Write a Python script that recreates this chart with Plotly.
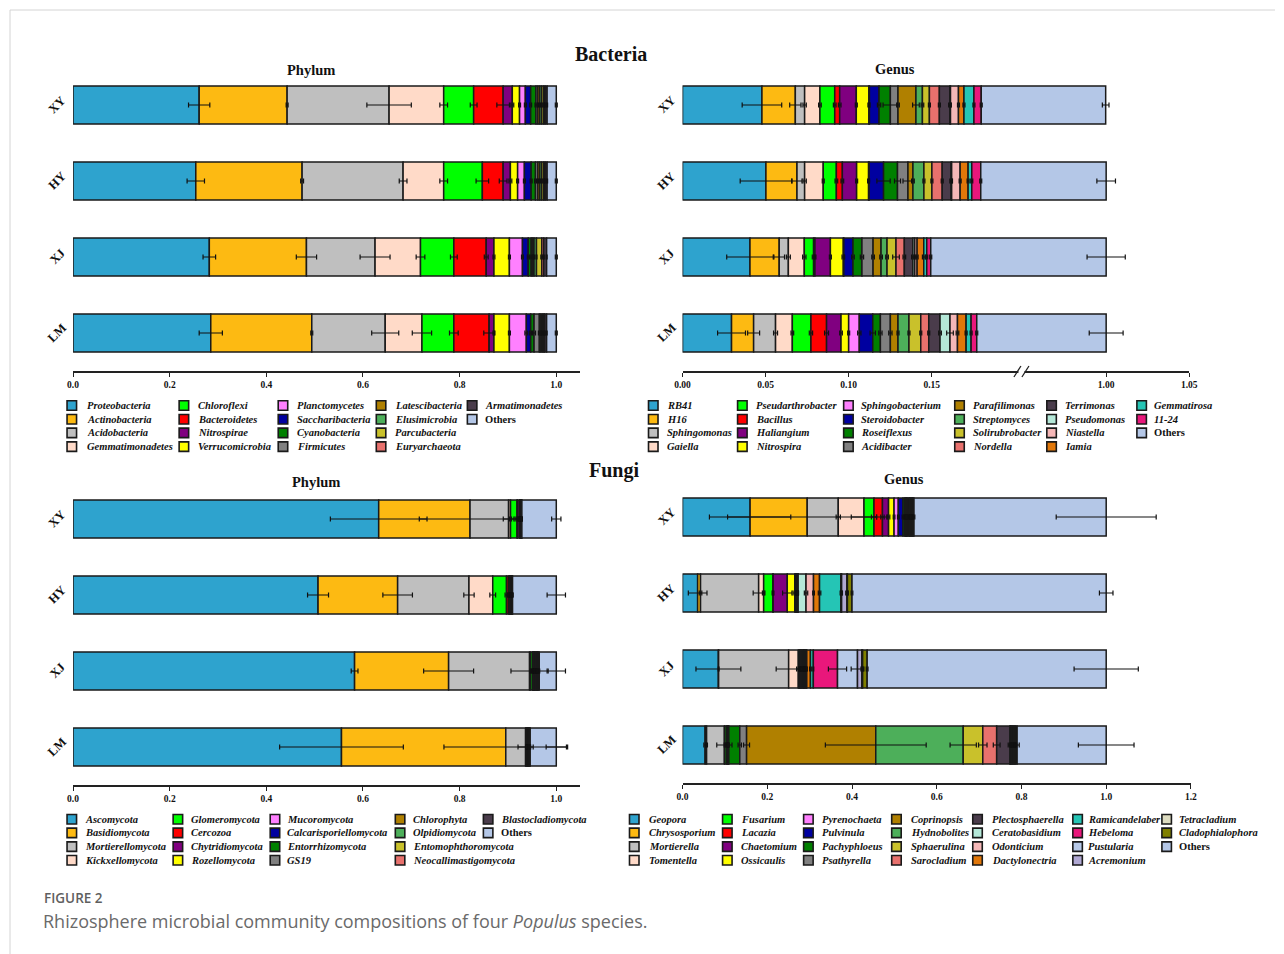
import numpy as np
import plotly.graph_objects as go

# page size, and the strip of the page that the paper coordinates span
PAGE_W, PAGE_H = 1284, 954
SPAN_X0, SPAN_W = 8, 1266
GROUPS = ["XY", "HY", "XJ", "LM"]
SERIF = "Liberation Serif, Times New Roman, serif"
SANS = "Open Sans, Noto Sans, sans-serif"

# ---------------------------------------------------------------- palette
PALETTE = [
    "#2EA3CE", "#FDBA12", "#BFBFBF", "#FFDAC8", "#00FF00", "#FF0000",
    "#800080", "#FFFF00", "#FF80FF", "#0000A0", "#008000", "#808080",
    "#B08000", "#4DAF5A", "#C9C12B", "#E8716D", "#4A3C4B", "#B5E8D8",
    "#F5B7B7", "#E17709", "#25C5B5", "#E9177B", "#B7C9E8", "#B0A8D3",
    "#DDDCC0", "#808000",
]
OTHERS_COLOR = "#B4C7E7"

# ---------------------------------------------------------------- bacteria, phylum level (XY, HY, XJ, LM)
BAC_PHYLUM = {
    "Proteobacteria":   [0.261, 0.254, 0.282, 0.285],
    "Actinobacteria":   [0.182, 0.220, 0.201, 0.209],
    "Acidobacteria":    [0.211, 0.209, 0.142, 0.152],
    "Gemmatimonadetes": [0.113, 0.084, 0.094, 0.076],
    "Chloroflexi":      [0.062, 0.080, 0.069, 0.066],
    "Bacteroidetes":    [0.061, 0.043, 0.067, 0.073],
    "Nitrospirae":      [0.019, 0.015, 0.016, 0.010],
    "Verrucomicrobia":  [0.015, 0.015, 0.032, 0.032],
    "Planctomycetes":   [0.012, 0.014, 0.027, 0.035],
    "Saccharibacteria": [0.011, 0.014, 0.012, 0.009],
    "Cyanobacteria":    [0.011, 0.009, 0.006, 0.007],
    "Firmicutes":       [0.004, 0.005, 0.003, 0.011],
    "Latescibacteria":  [0.004, 0.004, 0.003, 0.003],
    "Elusimicrobia":    [0.004, 0.004, 0.005, 0.003],
    "Parcubacteria":    [0.004, 0.004, 0.011, 0.003],
    "Euryarchaeota":    [0.003, 0.003, 0.004, 0.002],
    "Armatimonadetes":  [0.004, 0.004, 0.006, 0.004],
    "Others":           [0.019, 0.019, 0.020, 0.020],
}
BAC_PHYLUM_SD = {
    "Proteobacteria":   [0.022, 0.018, 0.013, 0.024],
    "Actinobacteria":   [0.002, 0.003, 0.021, 0.002],
    "Acidobacteria":    [0.046, 0.008, 0.031, 0.028],
    "Gemmatimonadetes": [0.008, 0.008, 0.009, 0.020],
    "Chloroflexi":      [0.007, 0.013, 0.007, 0.009],
    "Bacteroidetes":    [0.013, 0.008, 0.004, 0.011],
    "Nitrospirae":      [0.003, 0.003, 0.002, 0.002],
    "Verrucomicrobia":  [0.002, 0.002, 0.002, 0.002],
    "Planctomycetes":   [0.002, 0.002, 0.002, 0.003],
    "Saccharibacteria": [0.002, 0.002, 0.002, 0.002],
    "Cyanobacteria":    [0.002, 0.002, 0.002, 0.003],
    "Firmicutes":       [0.001, 0.001, 0.001, 0.002],
    "Latescibacteria":  [0.001, 0.001, 0.001, 0.001],
    "Elusimicrobia":    [0.001, 0.001, 0.001, 0.001],
    "Parcubacteria":    [0.001, 0.001, 0.002, 0.001],
    "Euryarchaeota":    [0.001, 0.001, 0.001, 0.001],
    "Armatimonadetes":  [0.001, 0.001, 0.001, 0.001],
    "Others":           [0.002, 0.002, 0.002, 0.002],
}

# ---------------------------------------------------------------- bacteria, genus level
BAC_GENUS = {
    "RB41":              [0.0478, 0.0502, 0.0406, 0.0295],
    "H16":               [0.0201, 0.0187, 0.0176, 0.0133],
    "Sphingomonas":      [0.0056, 0.0046, 0.0055, 0.0132],
    "Gaiella":           [0.0092, 0.0112, 0.0096, 0.0101],
    "Pseudarthrobacter": [0.0089, 0.0079, 0.0056, 0.0112],
    "Bacillus":          [0.0030, 0.0036, 0.0008, 0.0094],
    "Haliangium":        [0.0100, 0.0086, 0.0093, 0.0087],
    "Nitrospira":        [0.0076, 0.0072, 0.0078, 0.0046],
    "Sphingobacterium":  [0.0003, 0.0003, 0.0003, 0.0064],
    "Steroidobacter":    [0.0058, 0.0087, 0.0055, 0.0081],
    "Roseiflexus":       [0.0068, 0.0084, 0.0054, 0.0046],
    "Acidibacter":       [0.0046, 0.0063, 0.0067, 0.0060],
    "Parafilimonas":     [0.0108, 0.0030, 0.0048, 0.0046],
    "Streptomyces":      [0.0039, 0.0066, 0.0036, 0.0066],
    "Solirubrobacter":   [0.0042, 0.0048, 0.0054, 0.0071],
    "Nordella":          [0.0060, 0.0062, 0.0050, 0.0048],
    "Terrimonas":        [0.0064, 0.0054, 0.0052, 0.0068],
    "Pseudomonas":       [0.0003, 0.0003, 0.0011, 0.0060],
    "Niastella":         [0.0048, 0.0051, 0.0014, 0.0045],
    "Iamia":             [0.0033, 0.0048, 0.0040, 0.0052],
    "Gemmatirosa":       [0.0060, 0.0022, 0.0018, 0.0030],
    "11-24":             [0.0044, 0.0054, 0.0024, 0.0034],
    "Others":            [0.8199, 0.8205, 0.8506, 0.8229],
}
BAC_GENUS_SD = {
    "RB41":              [0.0119, 0.0155, 0.0140, 0.0084],
    "H16":               [0.0034, 0.0030, 0.0032, 0.0036],
    "Sphingomonas":      [0.0010, 0.0010, 0.0012, 0.0012],
    "Gaiella":           [0.0008, 0.0006, 0.0010, 0.0008],
    "Pseudarthrobacter": [0.0008, 0.0008, 0.0008, 0.0010],
    "Bacillus":          [0.0008, 0.0008, 0.0006, 0.0012],
    "Haliangium":        [0.0006, 0.0006, 0.0006, 0.0008],
    "Nitrospira":        [0.0006, 0.0006, 0.0008, 0.0006],
    "Sphingobacterium":  [0.0002, 0.0002, 0.0002, 0.0010],
    "Steroidobacter":    [0.0010, 0.0040, 0.0008, 0.0016],
    "Roseiflexus":       [0.0044, 0.0018, 0.0010, 0.0010],
    "Acidibacter":       [0.0008, 0.0030, 0.0008, 0.0010],
    "Parafilimonas":     [0.0020, 0.0008, 0.0008, 0.0006],
    "Streptomyces":      [0.0008, 0.0006, 0.0008, 0.0006],
    "Solirubrobacter":   [0.0006, 0.0006, 0.0020, 0.0006],
    "Nordella":          [0.0006, 0.0006, 0.0008, 0.0006],
    "Terrimonas":        [0.0008, 0.0008, 0.0008, 0.0008],
    "Pseudomonas":       [0.0002, 0.0002, 0.0006, 0.0020],
    "Niastella":         [0.0006, 0.0006, 0.0006, 0.0008],
    "Iamia":             [0.0006, 0.0006, 0.0008, 0.0006],
    "Gemmatirosa":       [0.0006, 0.0006, 0.0006, 0.0006],
    "11-24":             [0.0006, 0.0006, 0.0006, 0.0006],
    "Others":            [0.0020, 0.0056, 0.0115, 0.0102],
}

# ---------------------------------------------------------------- fungi, phylum level
FUN_PHYLUM = {
    "Ascomycota":            [0.6325, 0.5070, 0.5826, 0.5555],
    "Basidiomycota":         [0.1890, 0.1647, 0.1946, 0.3400],
    "Mortierellomycota":     [0.0798, 0.1476, 0.1675, 0.0410],
    "Kickxellomycota":       [0.0040, 0.0492, 0.0020, 0.0010],
    "Glomeromycota":         [0.0135, 0.0285, 0.0040, 0.0010],
    "Cercozoa":              [0.0010, 0.0040, 0.0010, 0.0005],
    "Chytridiomycota":       [0.0040, 0.0020, 0.0010, 0.0005],
    "Rozellomycota":         [0.0005, 0.0010, 0.0010, 0.0005],
    "Mucoromycota":          [0.0005, 0.0010, 0.0010, 0.0005],
    "Calcarisporiellomycota":[0.0005, 0.0010, 0.0010, 0.0005],
    "Entorrhizomycota":      [0.0005, 0.0005, 0.0010, 0.0005],
    "GS19":                  [0.0005, 0.0005, 0.0020, 0.0010],
    "Chlorophyta":           [0.0005, 0.0005, 0.0010, 0.0005],
    "Olpidiomycota":         [0.0005, 0.0005, 0.0010, 0.0005],
    "Entomophthoromycota":   [0.0005, 0.0005, 0.0010, 0.0005],
    "Neocallimastigomycota": [0.0005, 0.0005, 0.0010, 0.0005],
    "Blastocladiomycota":    [0.0005, 0.0005, 0.0020, 0.0015],
    "Others":                [0.0712, 0.0905, 0.0353, 0.0540],
}
FUN_PHYLUM_SD = {
    "Ascomycota":            [0.1000, 0.0217, 0.0070, 0.1280],
    "Basidiomycota":         [0.1050, 0.0306, 0.0517, 0.1280],
    "Mortierellomycota":     [0.0110, 0.0107, 0.0385, 0.0157],
    "Kickxellomycota":       [0.0020, 0.0060, 0.0010, 0.0010],
    "Glomeromycota":         [0.0040, 0.0030, 0.0020, 0.0010],
    "Cercozoa":              [0.0010, 0.0020, 0.0010, 0.0010],
    "Chytridiomycota":       [0.0020, 0.0010, 0.0010, 0.0010],
    "Rozellomycota":         [0.0010, 0.0010, 0.0010, 0.0010],
    "Mucoromycota":          [0.0010, 0.0010, 0.0010, 0.0010],
    "Calcarisporiellomycota":[0.0010, 0.0010, 0.0010, 0.0010],
    "Entorrhizomycota":      [0.0010, 0.0010, 0.0010, 0.0010],
    "GS19":                  [0.0010, 0.0010, 0.0010, 0.0010],
    "Chlorophyta":           [0.0010, 0.0010, 0.0010, 0.0010],
    "Olpidiomycota":         [0.0010, 0.0010, 0.0010, 0.0010],
    "Entomophthoromycota":   [0.0010, 0.0010, 0.0010, 0.0010],
    "Neocallimastigomycota": [0.0010, 0.0010, 0.0010, 0.0010],
    "Blastocladiomycota":    [0.0010, 0.0010, 0.0010, 0.0010],
    "Others":                [0.0096, 0.0190, 0.0190, 0.0210],
}

# ---------------------------------------------------------------- fungi, genus level
FUN_GENUS = {
    "Geopora":          [0.1595, 0.0357, 0.0847, 0.0533],
    "Chrysosporium":    [0.1348, 0.0068, 0.0005, 0.0035],
    "Mortierella":      [0.0733, 0.1372, 0.1653, 0.0420],
    "Tomentella":       [0.0607, 0.0118, 0.0228, 0.0015],
    "Fusarium":         [0.0236, 0.0219, 0.0020, 0.0040],
    "Lacazia":          [0.0200, 0.0005, 0.0010, 0.0010],
    "Chaetomium":       [0.0144, 0.0333, 0.0020, 0.0010],
    "Ossicaulis":       [0.0130, 0.0177, 0.0010, 0.0010],
    "Pyrenochaeta":     [0.0100, 0.0020, 0.0010, 0.0010],
    "Pulvinula":        [0.0110, 0.0010, 0.0020, 0.0010],
    "Pachyphloeus":     [0.0040, 0.0010, 0.0020, 0.0258],
    "Psathyrella":      [0.0020, 0.0010, 0.0010, 0.0161],
    "Coprinopsis":      [0.0010, 0.0010, 0.0010, 0.3049],
    "Hydnobolites":     [0.0010, 0.0005, 0.0010, 0.2064],
    "Sphaerulina":      [0.0010, 0.0005, 0.0010, 0.0462],
    "Sarocladium":      [0.0010, 0.0005, 0.0010, 0.0328],
    "Plectosphaerella": [0.0030, 0.0005, 0.0020, 0.0312],
    "Ceratobasidium":   [0.0020, 0.0186, 0.0010, 0.0010],
    "Odonticium":       [0.0010, 0.0177, 0.0010, 0.0010],
    "Dactylonectria":   [0.0010, 0.0142, 0.0086, 0.0020],
    "Ramicandelaber":   [0.0020, 0.0506, 0.0068, 0.0020],
    "Hebeloma":         [0.0010, 0.0005, 0.0571, 0.0020],
    "Pustularia":       [0.0020, 0.0010, 0.0472, 0.0020],
    "Acremonium":       [0.0010, 0.0127, 0.0101, 0.0020],
    "Tetracladium":     [0.0010, 0.0010, 0.0020, 0.0020],
    "Cladophialophora": [0.0020, 0.0108, 0.0107, 0.0030],
    "Others":           [0.4537, 0.6000, 0.5642, 0.2103],
}
FUN_GENUS_SD = {
    "Geopora":          [0.0960, 0.0220, 0.0530, 0.0030],
    "Chrysosporium":    [0.1880, 0.0030, 0.0010, 0.0020],
    "Mortierella":      [0.0050, 0.0130, 0.0295, 0.0180],
    "Tomentella":       [0.0300, 0.0030, 0.0040, 0.0020],
    "Fusarium":         [0.0060, 0.0020, 0.0020, 0.0030],
    "Lacazia":          [0.0040, 0.0010, 0.0010, 0.0010],
    "Chaetomium":       [0.0030, 0.0110, 0.0010, 0.0010],
    "Ossicaulis":       [0.0020, 0.0040, 0.0010, 0.0010],
    "Pyrenochaeta":     [0.0020, 0.0010, 0.0010, 0.0010],
    "Pulvinula":        [0.0020, 0.0010, 0.0020, 0.0010],
    "Pachyphloeus":     [0.0020, 0.0010, 0.0020, 0.0040],
    "Psathyrella":      [0.0010, 0.0010, 0.0010, 0.0070],
    "Coprinopsis":      [0.0010, 0.0010, 0.0010, 0.1190],
    "Hydnobolites":     [0.0010, 0.0010, 0.0010, 0.0310],
    "Sphaerulina":      [0.0010, 0.0010, 0.0010, 0.0100],
    "Sarocladium":      [0.0010, 0.0010, 0.0010, 0.0080],
    "Plectosphaerella": [0.0020, 0.0010, 0.0010, 0.0040],
    "Ceratobasidium":   [0.0010, 0.0040, 0.0010, 0.0010],
    "Odonticium":       [0.0010, 0.0020, 0.0010, 0.0010],
    "Dactylonectria":   [0.0010, 0.0030, 0.0020, 0.0010],
    "Ramicandelaber":   [0.0010, 0.0020, 0.0010, 0.0010],
    "Hebeloma":         [0.0010, 0.0010, 0.0215, 0.0010],
    "Pustularia":       [0.0010, 0.0020, 0.0150, 0.0010],
    "Acremonium":       [0.0010, 0.0030, 0.0020, 0.0010],
    "Tetracladium":     [0.0010, 0.0010, 0.0010, 0.0020],
    "Cladophialophora": [0.0020, 0.0020, 0.0020, 0.0050],
    "Others":           [0.1180, 0.0160, 0.0758, 0.0657],
}

# broken axis of the bacterial genus panel: the stretch 0.20-0.945 is cut out
BREAK_LO, BREAK_HI = 0.20, 0.945


def to_broken(v):
    v = np.asarray(v, dtype=float)
    return np.where(v >= BREAK_HI, v - (BREAK_HI - BREAK_LO), v)


def identity(v):
    return np.asarray(v, dtype=float)


def px(x):
    """page x (pixels) -> paper fraction"""
    return (x - SPAN_X0) / SPAN_W


def py(y):
    """page y (pixels, from top) -> paper fraction"""
    return 1 - y / PAGE_H


fig = go.Figure()


def colors_for(names):
    return [OTHERS_COLOR if n == "Others" else PALETTE[i] for i, n in enumerate(names)]


def add_panel(values, errors, xa, ya, transform):
    names = list(values)
    vals = np.array([values[n] for n in names])
    ends = np.cumsum(vals, axis=0)
    starts = ends - vals
    a_start, a_end = transform(starts), transform(ends)
    cols = colors_for(names)
    for i, n in enumerate(names):
        fig.add_trace(go.Bar(
            y=GROUPS, x=a_end[i] - a_start[i], base=a_start[i], orientation="h",
            width=0.5, name=n, showlegend=False, xaxis=xa, yaxis=ya,
            marker=dict(color=cols[i], line=dict(color="#1a1a1a", width=1.5)),
        ))
    # error bars sit in the scatter layer so they stay above every segment
    errs = np.array([errors[n] for n in names])
    fig.add_trace(go.Scatter(
        x=a_end.ravel(), y=np.tile(GROUPS, len(names)), mode="markers",
        marker=dict(size=2, color="rgba(0,0,0,0)"), showlegend=False,
        hoverinfo="skip", xaxis=xa, yaxis=ya,
        error_x=dict(type="data", array=errs.ravel(), color="#111111",
                     thickness=1.2, width=2.5),
    ))
    return names, cols


panels = [
    (BAC_PHYLUM, BAC_PHYLUM_SD, "x", "y", identity),
    (BAC_GENUS, BAC_GENUS_SD, "x2", "y2", to_broken),
    (FUN_PHYLUM, FUN_PHYLUM_SD, "x3", "y3", identity),
    (FUN_GENUS, FUN_GENUS_SD, "x4", "y4", identity),
]
legend_items = [add_panel(*p) for p in panels]

# ---------------------------------------------------------------- axes
tick_font = dict(family=SERIF, size=9.5, color="#111111", weight="bold")


def xaxis(x0, x1, anchor, rng, tickvals, ticktext):
    return dict(domain=[px(x0), px(x1)], anchor=anchor, range=rng,
                tickmode="array", tickvals=tickvals, ticktext=ticktext,
                showline=True, linecolor="#222222", linewidth=1.5,
                ticks="outside", ticklen=4, tickwidth=1.2, tickcolor="#222222",
                showgrid=False, zeroline=False, tickfont=tick_font)


def yaxis(y_top, y_bottom, anchor):
    return dict(domain=[py(y_bottom), py(y_top)], anchor=anchor, type="category",
                categoryorder="array", categoryarray=GROUPS, range=[3.5, -0.5],
                showline=False, ticks="", showgrid=False, zeroline=False,
                showticklabels=False)


PHY_TICKS = [0.0, 0.2, 0.4, 0.6, 0.8, 1.0]
PHY_LABELS = ["0.0", "0.2", "0.4", "0.6", "0.8", "1.0"]
BG_TICKS = [0.0, 0.05, 0.10, 0.15, 1.00, 1.05]
BG_LABELS = ["0.00", "0.05", "0.10", "0.15", "1.00", "1.05"]
FG_TICKS = [0.0, 0.2, 0.4, 0.6, 0.8, 1.0, 1.2]
FG_LABELS = ["0.0", "0.2", "0.4", "0.6", "0.8", "1.0", "1.2"]

AXES = [  # (x-axis id, y-axis id, left edge px, right edge px, top px, bottom px)
    ("x", "y", 73, 580, 67, 371),
    ("x2", "y2", 682, 1188.3, 67, 371),
    ("x3", "y3", 73, 580, 481, 785),
    ("x4", "y4", 682, 1190, 479, 783),
]

fig.update_layout(
    xaxis=xaxis(73, 580, "y", [0, 1.05], PHY_TICKS, PHY_LABELS),
    yaxis=yaxis(67, 371, "x"),
    xaxis2=xaxis(682, 1188.3, "y2", [0, float(to_broken(1.05))],
                 list(to_broken(BG_TICKS)), BG_LABELS),
    yaxis2=yaxis(67, 371, "x2"),
    xaxis3=xaxis(73, 580, "y3", [0, 1.05], PHY_TICKS, PHY_LABELS),
    yaxis3=yaxis(481, 785, "x3"),
    xaxis4=xaxis(682, 1190, "y4", [0, 1.2], FG_TICKS, FG_LABELS),
    yaxis4=yaxis(479, 783, "x4"),
)

shapes = []
annotations = []

# slanted group labels, placed on each panel's category axis
for xa, ya, x0, x1, y0, y1 in AXES:
    for g in GROUPS:
        annotations.append(dict(text=f"<b>{g}</b>", x=px(x0 - 16), y=g, xref="paper", yref=ya,
                                xanchor="center", yanchor="middle", showarrow=False,
                                textangle=-45,
                                font=dict(family=SERIF, size=12.5, color="#111111")))

# break marks on the genus axis
brk_px = 682 + (BREAK_LO + 0.004) / float(to_broken(1.05)) * (1188.3 - 682)
shapes.append(dict(type="rect", xref="paper", yref="paper",
                   x0=px(brk_px - 3), x1=px(brk_px + 3), y0=py(375), y1=py(368),
                   fillcolor="white", line=dict(width=0)))
for dx in (-4, 4):
    shapes.append(dict(type="line", xref="paper", yref="paper",
                       x0=px(brk_px + dx - 3.5), y0=py(377),
                       x1=px(brk_px + dx + 3.5), y1=py(366),
                       line=dict(color="#222222", width=1.3)))

# ---------------------------------------------------------------- legends
LEGEND_SPECS = [
    dict(sw=[67, 179, 278, 376, 467], tx=[86, 197, 296, 394, 484], rows=[405.5, 419.2, 432.9, 446.6]),
    dict(sw=[648, 737, 843, 954, 1046, 1136], tx=[665, 754, 859, 971, 1063, 1152],
         rows=[405.5, 419.2, 432.9, 446.6]),
    dict(sw=[67, 173, 270, 395, 483], tx=[84, 190, 286, 412, 500], rows=[819.2, 832.9, 846.6, 860.3]),
    dict(sw=[629, 722, 803, 891, 972, 1072, 1161], tx=[647, 739, 820, 909, 990, 1086, 1177],
         rows=[819.2, 832.9, 846.6, 860.3]),
]
for (names, cols), spec in zip(legend_items, LEGEND_SPECS):
    for k, (n, c) in enumerate(zip(names, cols)):
        col, row = divmod(k, 4)
        sx, tx, ry = spec["sw"][col], spec["tx"][col], spec["rows"][row]
        shapes.append(dict(type="rect", xref="paper", yref="paper",
                           x0=px(sx), x1=px(sx + 9.5), y0=py(ry + 4.75), y1=py(ry - 4.75),
                           fillcolor=c, line=dict(color="#1a1a1a", width=1.6)))
        label = "<b>Others</b>" if n == "Others" else f"<b><i>{n}</i></b>"
        annotations.append(dict(text=label, x=px(tx - 1), y=py(ry), xref="paper", yref="paper",
                                xanchor="left", yanchor="middle", showarrow=False,
                                font=dict(family=SERIF, size=10.5, color="#111111")))

# ---------------------------------------------------------------- titles
for text, x, y, size in [("Bacteria", 611, 54, 20), ("Phylum", 311, 70, 14.5),
                         ("Genus", 894, 69, 14.5), ("Fungi", 614, 470, 20),
                         ("Phylum", 316, 482, 14.5), ("Genus", 903, 479, 14.5)]:
    annotations.append(dict(text=f"<b>{text}</b>", x=px(x), y=py(y), xref="paper", yref="paper",
                            xanchor="center", yanchor="middle", showarrow=False,
                            font=dict(family=SERIF, size=size, color="#111111")))

# caption block
annotations.append(dict(text="FIGURE 2", x=px(42), y=py(898), xref="paper", yref="paper",
                        xanchor="left", yanchor="middle", showarrow=False,
                        font=dict(family=SANS, size=13.5, color="#5f5f5f", weight=600)))
annotations.append(dict(text="Rhizosphere microbial community compositions of four <i>Populus</i> species.",
                        x=px(41), y=py(921), xref="paper", yref="paper",
                        xanchor="left", yanchor="middle", showarrow=False,
                        font=dict(family=SANS, size=18, color="#6a6a6a")))

# page frame
shapes.append(dict(type="line", xref="paper", yref="paper", x0=px(10), x1=1, y0=py(10), y1=py(10),
                   line=dict(color="#d4d4d4", width=1)))
shapes.append(dict(type="line", xref="paper", yref="paper", x0=px(10), x1=px(10), y0=py(10), y1=0,
                   line=dict(color="#d4d4d4", width=1)))

fig.update_layout(
    width=PAGE_W, height=PAGE_H, autosize=False,
    margin=dict(l=0, r=0, t=0, b=0, pad=0),
    paper_bgcolor="white", plot_bgcolor="white",
    barmode="overlay", showlegend=False,
    shapes=shapes, annotations=annotations,
)

fig.write_html("out.html")
